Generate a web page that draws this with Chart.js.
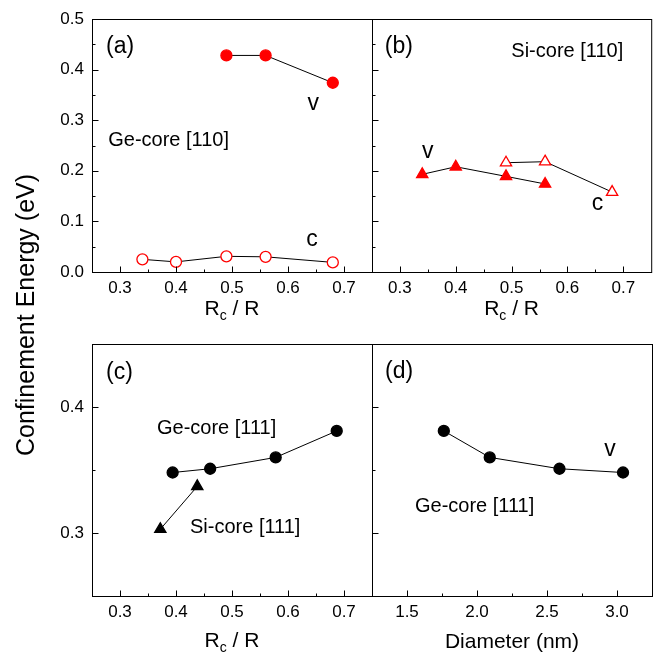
<!DOCTYPE html>
<html>
<head>
<meta charset="utf-8">
<script src="https://cdn.jsdelivr.net/npm/chart.js@4.4.1/dist/chart.umd.min.js"></script>
<style>
  html, body { margin: 0; padding: 0; background: #fff; }
  #wrap { position: relative; width: 659px; height: 654px; }
  #wrap canvas { position: absolute; left: 0; top: 0; }
</style>
</head>
<body>
<div id="wrap">
  <canvas id="pa" width="659" height="654"></canvas>
  <canvas id="pb" width="659" height="654"></canvas>
  <canvas id="pc" width="659" height="654"></canvas>
  <canvas id="pd" width="659" height="654"></canvas>
</div>
<script>
const FONT = "'Liberation Sans', Arial, sans-serif";
const RED = "#ff0000";

// (a) Ge-core [110]
const aVx = [0.49, 0.56, 0.68];
const aVy = [0.428, 0.428, 0.374];
const aCx = [0.34, 0.40, 0.49, 0.56, 0.68];
const aCy = [0.025, 0.020, 0.031, 0.030, 0.019];

// (b) Si-core [110]
const bVx = [0.34, 0.40, 0.49, 0.56];
const bVy = [0.193, 0.208, 0.189, 0.174];
const bCx = [0.49, 0.56, 0.68];
const bCy = [0.216, 0.218, 0.158];

// (c) [111], vs Rc/R
const cGeX = [0.394, 0.461, 0.578, 0.687];
const cGeY = [0.348, 0.351, 0.360, 0.381];
const cSiX = [0.372, 0.438];
const cSiY = [0.303, 0.337];

// (d) Ge-core [111], vs diameter
const dX = [1.763, 2.091, 2.589, 3.043];
const dY = [0.381, 0.360, 0.351, 0.348];

// tick values
const rcTicks = [0.3, 0.4, 0.5, 0.6, 0.7];
const rcMinor = [0.35, 0.45, 0.55, 0.65];
const topYTicks = [0.0, 0.1, 0.2, 0.3, 0.4, 0.5];
const topYMinor = [0.05, 0.15, 0.25, 0.35, 0.45];
const botYTicks = [0.3, 0.4];
const botYMinor = [0.35];
const diaTicks = [1.5, 2.0, 2.5, 3.0];
const diaMinor = [1.75, 2.25, 2.75];

// room kept for the tick labels outside each plot box
const AXW = 60, AXH = 30;

function pts(xs, ys) {
  return xs.map((x, i) => ({ x, y: ys[i] }));
}

const panelPlugin = {
  id: "panel",
  afterDraw(chart, args, o) {
    const { ctx, chartArea: a } = chart;
    const x = chart.scales.x, y = chart.scales.y;
    ctx.save();
    ctx.strokeStyle = "#000";
    ctx.lineWidth = 1;
    ctx.beginPath();
    const xt = (vals, len) => vals.forEach(v => {
      const px = Math.round(x.getPixelForValue(v)) + 0.5;
      ctx.moveTo(px, a.bottom + 0.5);
      ctx.lineTo(px, a.bottom + 0.5 - len);
    });
    const yt = (vals, len) => vals.forEach(v => {
      const py = Math.round(y.getPixelForValue(v)) + 0.5;
      ctx.moveTo(a.left + 0.5, py);
      ctx.lineTo(a.left + 0.5 + len, py);
    });
    xt(o.xMajor, 6); xt(o.xMinor, 3);
    yt(o.yMajor, 6); yt(o.yMinor, 3);
    ctx.stroke();
    ctx.strokeRect(a.left + 0.5, a.top + 0.5, a.width, a.height);

    // notes inside the panel
    ctx.fillStyle = "#000";
    ctx.textBaseline = "middle";
    o.notes.forEach(n => {
      ctx.font = n.size + "px " + FONT;
      ctx.textAlign = n.align || "left";
      ctx.fillText(n.t, x.getPixelForValue(n.x), y.getPixelForValue(n.y));
    });

    // x title
    const cx = (a.left + a.right) / 2;
    const cy = a.bottom + o.titleGap;
    if (o.xTitle === "rc") {
      ctx.font = "21px " + FONT;
      const w1 = ctx.measureText("R").width;
      const w3 = ctx.measureText(" / R").width;
      ctx.font = "14px " + FONT;
      const w2 = ctx.measureText("c").width;
      let sx = cx - (w1 + w2 + w3) / 2;
      ctx.textAlign = "left";
      ctx.font = "21px " + FONT;
      ctx.fillText("R", sx, cy);
      ctx.font = "14px " + FONT;
      ctx.fillText("c", sx + w1, cy + 7);
      ctx.font = "21px " + FONT;
      ctx.fillText(" / R", sx + w1 + w2, cy);
    } else {
      ctx.font = "21px " + FONT;
      ctx.textAlign = "center";
      ctx.fillText(o.xTitle, cx, cy);
    }

    if (o.yTitle) {
      ctx.translate(27, 315);
      ctx.rotate(-Math.PI / 2);
      ctx.font = "25px " + FONT;
      ctx.textAlign = "center";
      ctx.fillText(o.yTitle, 0, 0);
    }
    ctx.restore();
  }
};

function makePanel(id, box, xr, yr, xTicks, yTicks, showY, datasets, panel) {
  new Chart(document.getElementById(id), {
    type: "scatter",
    data: { datasets },
    plugins: [panelPlugin],
    options: {
      responsive: false,
      animation: false,
      events: [],
      layout: {
        padding: { left: box[0] - AXW, top: box[1], right: 659 - box[2], bottom: 654 - box[3] - AXH }
      },
      plugins: { legend: { display: false }, tooltip: { enabled: false }, panel },
      scales: {
        x: {
          type: "linear", min: xr[0], max: xr[1],
          afterFit: s => { s.height = AXH; },
          afterBuildTicks: s => { s.ticks = xTicks.map(v => ({ value: v })); },
          grid: { display: false, drawTicks: false },
          border: { display: false },
          ticks: {
            color: "#000", padding: 6, maxRotation: 0, autoSkip: false,
            font: { family: FONT, size: 17 },
            callback: v => v.toFixed(1)
          }
        },
        y: {
          type: "linear", min: yr[0], max: yr[1],
          afterFit: s => { s.width = AXW; },
          afterBuildTicks: s => { s.ticks = yTicks.map(v => ({ value: v })); },
          grid: { display: false, drawTicks: false },
          border: { display: false },
          ticks: {
            display: showY, color: "#000", padding: 8, autoSkip: false,
            font: { family: FONT, size: 17 },
            callback: v => v.toFixed(1)
          }
        }
      }
    }
  });
}

function series(xs, ys, style, radius, fill, stroke) {
  return {
    data: pts(xs, ys),
    showLine: true,
    borderColor: "#000",
    borderWidth: 1,
    pointStyle: style,
    pointRadius: radius,
    pointBackgroundColor: fill,
    pointBorderColor: stroke,
    pointBorderWidth: 1.3
  };
}

makePanel("pa", [92, 19, 372, 272], [0.25, 0.75], [0, 0.5], rcTicks, topYTicks, true, [
  series(aVx, aVy, "circle", 5.5, RED, RED),
  series(aCx, aCy, "circle", 5.5, "#fff", RED)
], {
  xMajor: rcTicks, xMinor: rcMinor, yMajor: topYTicks, yMinor: topYMinor,
  xTitle: "rc", titleGap: 37, yTitle: "Confinement Energy (eV)",
  notes: [
    { t: "(a)", x: 0.275, y: 0.445, size: 23 },
    { t: "Ge-core [110]", x: 0.279, y: 0.259, size: 20 },
    { t: "v", x: 0.645, y: 0.332, size: 23, align: "center" },
    { t: "c", x: 0.643, y: 0.063, size: 23, align: "center" }
  ]
});

makePanel("pb", [372, 19, 652, 272], [0.25, 0.75], [0, 0.5], rcTicks, topYTicks, false, [
  series(bVx, bVy, "triangle", 6.5, RED, RED),
  series(bCx, bCy, "triangle", 6.5, "#fff", RED)
], {
  xMajor: rcTicks, xMinor: rcMinor, yMajor: topYTicks, yMinor: topYMinor,
  xTitle: "rc", titleGap: 37,
  notes: [
    { t: "(b)", x: 0.273, y: 0.445, size: 23 },
    { t: "Si-core [110]", x: 0.4995, y: 0.435, size: 20 },
    { t: "v", x: 0.35, y: 0.237, size: 23, align: "center" },
    { t: "c", x: 0.654, y: 0.136, size: 23, align: "center" }
  ]
});

makePanel("pc", [92, 344, 372, 596], [0.25, 0.75], [0.25, 0.45], rcTicks, botYTicks, true, [
  series(cGeX, cGeY, "circle", 5.5, "#000", "#000"),
  series(cSiX, cSiY, "triangle", 6.5, "#000", "#000")
], {
  xMajor: rcTicks, xMinor: rcMinor, yMajor: botYTicks, yMinor: botYMinor,
  xTitle: "rc", titleGap: 45,
  notes: [
    { t: "(c)", x: 0.275, y: 0.427, size: 23 },
    { t: "Ge-core [111]", x: 0.366, y: 0.3833, size: 20 },
    { t: "Si-core [111]", x: 0.425, y: 0.304, size: 20 }
  ]
});

makePanel("pd", [372, 344, 652, 596], [1.25, 3.25], [0.25, 0.45], diaTicks, botYTicks, false, [
  series(dX, dY, "circle", 5.5, "#000", "#000")
], {
  xMajor: diaTicks, xMinor: diaMinor, yMajor: botYTicks, yMinor: botYMinor,
  xTitle: "Diameter (nm)", titleGap: 46,
  notes: [
    { t: "(d)", x: 1.343, y: 0.428, size: 23 },
    { t: "v", x: 2.95, y: 0.366, size: 23, align: "center" },
    { t: "Ge-core [111]", x: 1.557, y: 0.321, size: 20 }
  ]
});
</script>
</body>
</html>
